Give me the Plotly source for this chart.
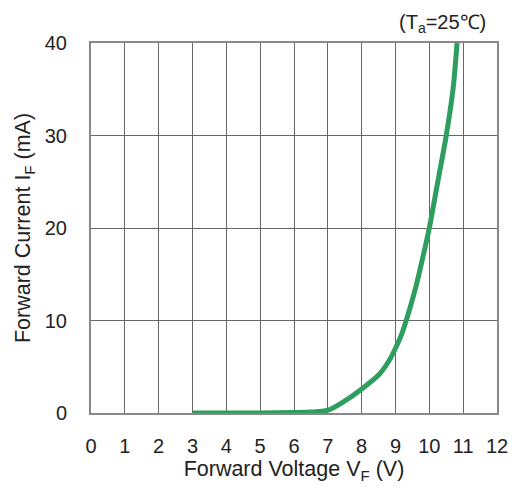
import plotly.graph_objects as go

vf = [3.0, 4.0, 5.0, 6.0, 6.5, 7.0, 7.5, 8.0, 8.5, 8.8, 9.0, 9.2, 9.4, 9.6, 9.8, 10.0, 10.25, 10.5, 10.7, 10.82]
i_f = [0.0, 0.0, 0.0, 0.05, 0.1, 0.3, 1.3, 2.6, 4.1, 5.6, 7.0, 8.7, 11.0, 13.6, 16.7, 20.0, 25.0, 30.0, 35.0, 40.0]

x_ticks = list(range(0, 13))
y_ticks = [0, 10, 20, 30, 40]

fig = go.Figure()
fig.add_trace(go.Scatter(x=vf, y=i_f, mode="lines",
                         line=dict(color="#2e9e5e", width=5, shape="spline", smoothing=0.8),
                         showlegend=False, hoverinfo="skip"))

family = "Liberation Sans, Arial, sans-serif"
font = dict(family=family, size=20, color="#222")
tfont = dict(family=family, size=21.5, color="#222")

fig.update_layout(
    width=512, height=490,
    margin=dict(l=91, r=15, t=43, b=77, autoexpand=False),
    paper_bgcolor="white", plot_bgcolor="white",
    font=font,
    xaxis=dict(range=[0, 12], tickvals=x_ticks, ticktext=[str(v) for v in x_ticks],
               showgrid=True, gridcolor="#666", gridwidth=1,
               showline=True, linecolor="#888", linewidth=2, mirror=True,
               zeroline=False, ticks="", ticklabelstandoff=14,
               ticklabeloverflow="allow", automargin=False,
               tickfont=font,
               title=dict(text="Forward Voltage V<sub>F</sub> (V)", standoff=4, font=tfont)),
    yaxis=dict(range=[0, 40], tickvals=y_ticks, ticktext=[str(v) for v in y_ticks],
               showgrid=True, gridcolor="#666", gridwidth=1,
               showline=True, linecolor="#888", linewidth=2, mirror=True,
               zeroline=False, ticks="", ticklabelstandoff=18, automargin=False,
               tickfont=font,
               title=dict(text="Forward Current I<sub>F</sub> (mA)", standoff=8, font=tfont)),
    annotations=[dict(text="(T<sub>a</sub>=25℃)", x=1.0, xref="paper", xanchor="right",
                      y=1.0, yref="paper", yanchor="bottom", yshift=5, xshift=-9,
                      showarrow=False, font=dict(family=family, size=20, color="#222"))],
)

fig.write_html("out.html", config={"displayModeBar": False, "responsive": False},
               post_script="document.body.style.margin='0';document.body.style.overflow='hidden';")
